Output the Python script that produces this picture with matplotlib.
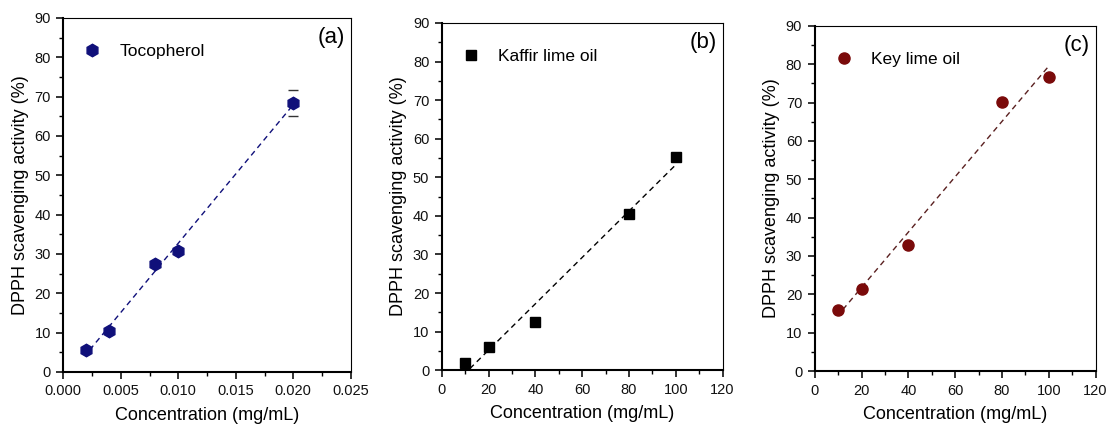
import numpy as np
import matplotlib
matplotlib.use("Agg")
import matplotlib.pyplot as plt
from matplotlib.ticker import MultipleLocator

plt.rcParams['font.family'] = ['Liberation Sans', 'DejaVu Sans']

# panel (a) tocopherol
toco_x = [0.002, 0.004, 0.008, 0.010, 0.020]
toco_y = [5.5, 10.3, 27.5, 30.8, 68.3]
toco_err = [0.0, 0.0, 0.0, 0.0, 3.3]

# panel (b) kaffir lime oil
kaffir_x = [10, 20, 40, 80, 100]
kaffir_y = [1.8, 6.0, 12.5, 40.5, 55.3]

# panel (c) key lime oil
key_x = [10, 20, 40, 80, 100]
key_y = [16.0, 21.5, 32.8, 70.1, 76.8]

panels = [
    dict(x=toco_x, y=toco_y, err=toco_err, label='Tocopherol', tag='(a)',
         color='#10107a', marker='h', ms=9, xlim=(0, 0.025), xmaj=0.005,
         fmt='{:.3f}', fit_start=0.0023,
         rect=[0.057, 0.125, 0.259, 0.833]),
    dict(x=kaffir_x, y=kaffir_y, err=None, label='Kaffir lime oil', tag='(b)',
         color='#000000', marker='s', ms=7.5, xlim=(0, 120), xmaj=20,
         fmt='{:.0f}', fit_start=12,
         rect=[0.398, 0.129, 0.253, 0.817]),
    dict(x=key_x, y=key_y, err=None, label='Key lime oil', tag='(c)',
         color='#7a0a0a', marker='o', ms=8, xlim=(0, 120), xmaj=20,
         fmt='{:.0f}', fit_start=12,
         rect=[0.734, 0.127, 0.253, 0.812]),
]

fig = plt.figure(figsize=(11.1, 4.25), dpi=100)

for p in panels:
    ax = fig.add_axes(p['rect'])
    x = np.array(p['x'])
    y = np.array(p['y'])

    # linear fit, dashed
    k, b = np.polyfit(x, y, 1)
    xf = np.array([p['fit_start'], x.max()])
    line_col = '#5a2020' if p['tag'] == '(c)' else p['color']
    ax.plot(xf, k * xf + b, ls=(0, (4, 3)), lw=1.0, color=line_col, zorder=2)

    if p['err'] is not None:
        ax.errorbar(x, y, yerr=p['err'], fmt='none', ecolor='#333333',
                    elinewidth=0, capsize=3.5, capthick=1.0, zorder=1)
    ax.plot(x, y, ls='none', marker=p['marker'], ms=p['ms'],
            color=p['color'], mec=p['color'], label=p['label'], zorder=3)

    ax.set_xlim(*p['xlim'])
    ax.set_ylim(0, 90)
    ax.xaxis.set_major_locator(MultipleLocator(p['xmaj']))
    ax.xaxis.set_minor_locator(MultipleLocator(p['xmaj'] / 2))
    ax.yaxis.set_major_locator(MultipleLocator(10))
    ax.yaxis.set_minor_locator(MultipleLocator(5))
    ticks = ax.get_xticks()
    ax.set_xticks(ticks)
    ax.set_xticklabels([p['fmt'].format(t) for t in ticks])
    ax.set_xlim(*p['xlim'])

    ax.tick_params(which='major', direction='out', length=5, width=1.2,
                   labelsize=10.5, colors='#111111', pad=4)
    ax.tick_params(which='minor', direction='out', length=3, width=1.0)
    ax.tick_params(top=False, right=False, which='both')
    for side in ('left', 'bottom'):
        ax.spines[side].set_linewidth(1.5)
    for side in ('top', 'right'):
        ax.spines[side].set_linewidth(0.8)

    ax.set_xlabel('Concentration (mg/mL)', fontsize=13, labelpad=6)
    ax.set_ylabel('DPPH scavenging activity (%)', fontsize=13, labelpad=4)

    ax.legend(loc='upper left', frameon=False, fontsize=12.5,
              handletextpad=0.6, borderaxespad=0.6,
              bbox_to_anchor=(-0.021, 0.975))
    ax.text(0.98, 0.975, p['tag'], transform=ax.transAxes, ha='right',
            va='top', fontsize=16)

fig.savefig('out.png', dpi=100)
